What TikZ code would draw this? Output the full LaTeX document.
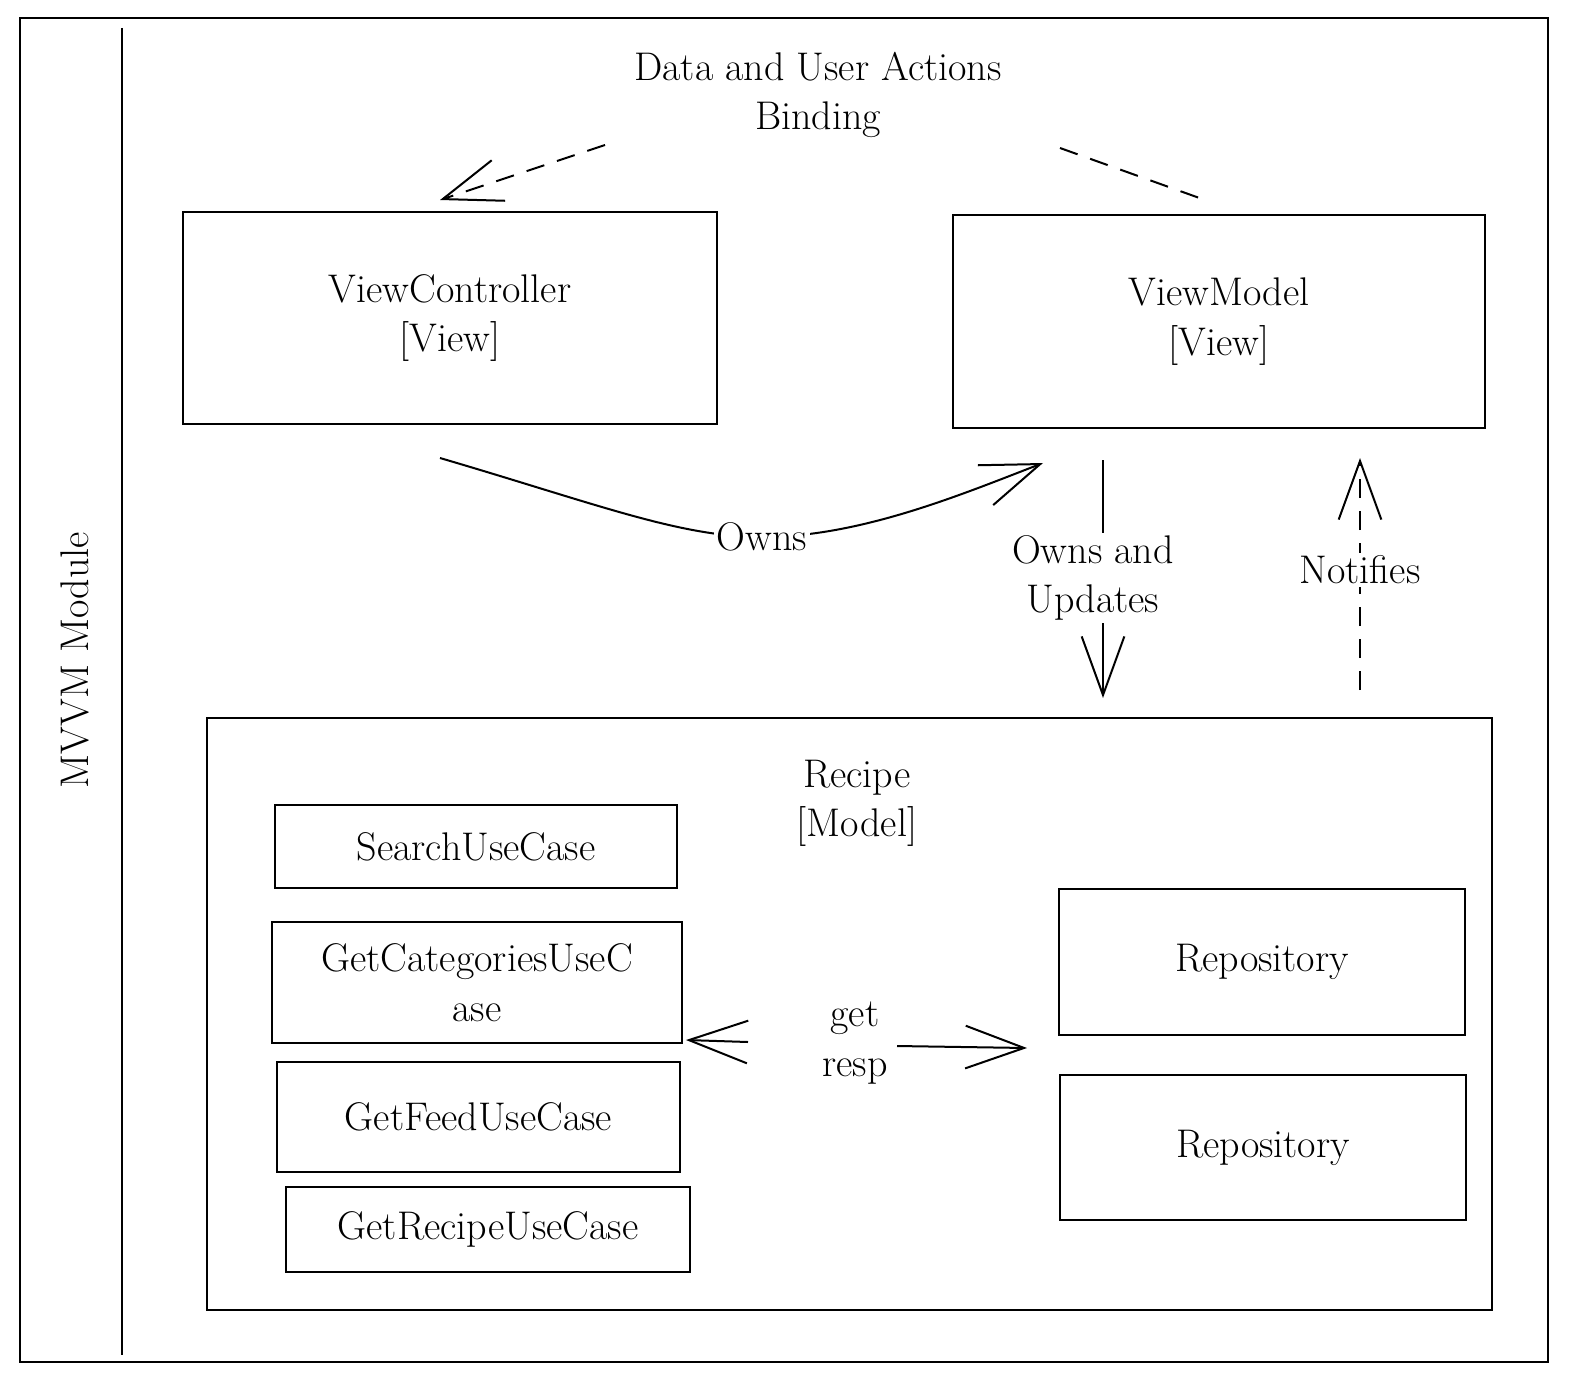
\documentclass[tikz,border=0pt]{standalone}
\usetikzlibrary{arrows.meta}

\tikzset{
  box/.style={draw, line width=1.5pt, inner sep=0pt, align=center, font=\fontsize{30}{37}\selectfont},
  lbl/.style={align=center, inner sep=2pt, font=\fontsize{30}{37}\selectfont},
  barb/.style={-{Straight Barb[length=44pt,width=32pt]}},
  conn/.style={line width=1.5pt},
  dashline/.style={conn, dash pattern=on 14pt off 10pt}
}

\begin{document}
\begin{tikzpicture}[x=0.75pt,y=0.75pt,yscale=-1,xscale=1]
        \useasboundingbox (0,0) rectangle (1576,1388);
        \draw [line width=1.5pt] (20,18) rectangle (1548,1362);
        \draw [line width=1.5pt] (122,28) -- (122,1355);

        \node (mod) [lbl, rotate=90] at (75,660) {MVVM Module};
        \node (bind) [lbl] at (818,95) {Data and User Actions\\Binding};

        \node (vc) [box, minimum width=534*0.75pt, minimum height=212*0.75pt] at (450,318) {ViewController\\{[View]}};
        \node (vm) [box, minimum width=532*0.75pt, minimum height=213*0.75pt] at (1219,321.5) {ViewModel\\{[View]}};

        \node (recipe) [box, minimum width=1285*0.75pt, minimum height=592*0.75pt] at (849.5,1014) {};
        \node (recipeLbl) [lbl] at (857,803) {Recipe\\{[Model]}};

        \node (search) [box, minimum width=402*0.75pt, minimum height=83*0.75pt] at (476,846.5) {SearchUseCase};
        \node (cats) [box, minimum width=410*0.75pt, minimum height=121*0.75pt] at (477,982.5) {GetCategoriesUseC\\ase};
        \node (feed) [box, minimum width=403*0.75pt, minimum height=110*0.75pt] at (478.5,1117) {GetFeedUseCase};
        \node (getrec) [box, minimum width=404*0.75pt, minimum height=85*0.75pt] at (488,1229.5) {GetRecipeUseCase};

        \node (repoA) [box, minimum width=406*0.75pt, minimum height=146*0.75pt] at (1262,962) {Repository};
        \node (repoB) [box, minimum width=406*0.75pt, minimum height=145*0.75pt] at (1263,1147.5) {Repository};

        \coordinate (bindL) at (605,145);
        \coordinate (vcTop) at (440,200);
        \coordinate (bindR) at (1060,148);
        \coordinate (vmTop) at (1205,200);
        \draw [dashline, barb] (bindL) -- (vcTop);
        \draw [dashline] (bindR) -- (vmTop);

        \coordinate (ownsA) at (440,458);
        \coordinate (ownsB) at (1043,463);
        \draw [conn, barb] (ownsA) .. controls (600,505) and (680,537) .. (762,537) .. controls (860,537) and (960,495) .. (ownsB);
        \node (owns) [lbl, fill=white] at (762,537) {Owns};

        \coordinate (updA) at (1103,460);
        \coordinate (updB) at (1103,698);
        \draw [conn, barb] (updA) -- (updB);
        \node (upd) [lbl, fill=white] at (1093,578) {Owns and\\Updates};

        \coordinate (notA) at (1360,690);
        \coordinate (notB) at (1360,458);
        \draw [dashline, barb] (notA) -- (notB);
        \node (notif) [lbl, fill=white] at (1360,570) {Notifies};

        \node (getresp) [lbl] at (855,1043) {get\\resp};
        \coordinate (getA) at (748,1042);
        \coordinate (getB) at (686,1040);
        \coordinate (respA) at (897,1046);
        \coordinate (respB) at (1027,1048);
        \draw [conn, barb] (getA) -- (getB);
        \draw [conn, barb] (respA) -- (respB);
    \end{tikzpicture}
\end{document}
